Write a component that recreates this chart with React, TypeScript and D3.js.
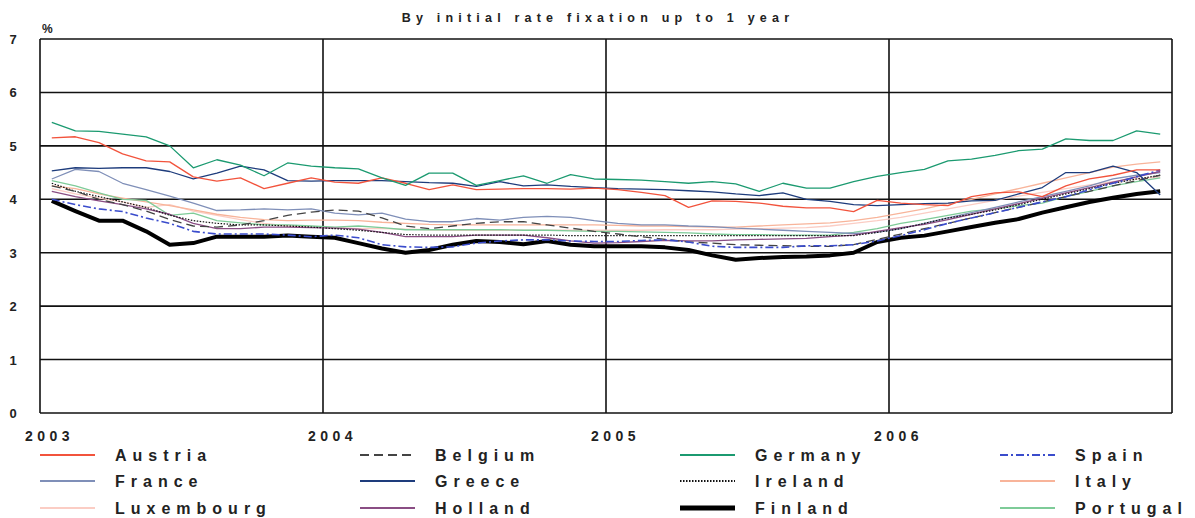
import * as d3 from 'd3';
import React from 'react';

// monthly data Jan 2003 - Dec 2006, %
const years = ['2003', '2004', '2005', '2006'];
const months = d3.range(48).map((i) => `${years[Math.floor(i / 12)]}-${(i % 12) + 1}`);
const yTicks = [0, 1, 2, 3, 4, 5, 6, 7];

const austria = [5.15, 5.17, 5.06, 4.85, 4.72, 4.7, 4.42, 4.34, 4.4, 4.2, 4.3, 4.4, 4.32, 4.3, 4.4, 4.3, 4.18, 4.27, 4.18, 4.19, 4.2, 4.2, 4.19, 4.21, 4.18, 4.13, 4.07, 3.85, 3.97, 3.96, 3.93, 3.87, 3.84, 3.84, 3.77, 3.98, 3.93, 3.9, 3.88, 4.05, 4.12, 4.14, 4.05, 4.25, 4.38, 4.45, 4.55, 4.55];
const belgium = [4.25, 4.15, 4.0, 3.9, 3.78, 3.62, 3.5, 3.48, 3.52, 3.6, 3.7, 3.76, 3.8, 3.78, 3.65, 3.5, 3.45, 3.5, 3.55, 3.58, 3.58, 3.52, 3.46, 3.4, 3.35, 3.3, 3.25, 3.2, 3.18, 3.15, 3.14, 3.13, 3.12, 3.12, 3.15, 3.25, 3.35, 3.45, 3.55, 3.65, 3.75, 3.85, 3.95, 4.05, 4.15, 4.25, 4.35, 4.45];
const germany = [5.44, 5.28, 5.27, 5.22, 5.17, 5.0, 4.59, 4.74, 4.64, 4.44, 4.68, 4.62, 4.59, 4.57, 4.4, 4.26, 4.49, 4.49, 4.26, 4.35, 4.44, 4.3, 4.46, 4.38, 4.37, 4.36, 4.33, 4.3, 4.33, 4.29, 4.15, 4.3, 4.21, 4.21, 4.33, 4.43, 4.5, 4.56, 4.72, 4.75, 4.82, 4.91, 4.94, 5.13, 5.1, 5.1, 5.28, 5.22];
const spain = [4.0, 3.9, 3.82, 3.77, 3.65, 3.55, 3.4, 3.35, 3.35, 3.35, 3.33, 3.3, 3.33, 3.28, 3.15, 3.11, 3.1, 3.11, 3.18, 3.22, 3.24, 3.24, 3.22, 3.21, 3.21, 3.23, 3.24, 3.2, 3.12, 3.1, 3.1, 3.1, 3.13, 3.13, 3.15, 3.22, 3.32, 3.43, 3.55, 3.65, 3.75, 3.85, 3.95, 4.05, 4.18, 4.3, 4.42, 4.55];
const france = [4.38, 4.56, 4.52, 4.3, 4.18, 4.06, 3.93, 3.79, 3.8, 3.82, 3.8, 3.82, 3.74, 3.71, 3.74, 3.63, 3.58, 3.58, 3.64, 3.61, 3.66, 3.68, 3.66, 3.6, 3.55, 3.52, 3.52, 3.5, 3.49, 3.46, 3.44, 3.42, 3.4, 3.38, 3.36, 3.38, 3.45, 3.55, 3.65, 3.75, 3.85, 3.95, 4.05, 4.15, 4.25, 4.38, 4.45, 4.5];
const greece = [4.53, 4.59, 4.58, 4.59, 4.59, 4.52, 4.38, 4.49, 4.62, 4.55, 4.35, 4.34, 4.35, 4.35, 4.35, 4.33, 4.31, 4.3, 4.24, 4.33, 4.25, 4.27, 4.24, 4.22, 4.2, 4.19, 4.18, 4.16, 4.14, 4.1, 4.07, 4.12, 4.0, 3.96, 3.9, 3.88, 3.9, 3.92, 3.93, 3.97, 3.98, 4.1, 4.22, 4.5, 4.5, 4.62, 4.5, 4.08];
const ireland = [4.3, 4.15, 4.05, 3.95, 3.85, 3.7, 3.6, 3.55, 3.52, 3.52, 3.5, 3.48, 3.45, 3.42, 3.38, 3.34, 3.33, 3.33, 3.33, 3.33, 3.33, 3.33, 3.32, 3.32, 3.32, 3.32, 3.32, 3.32, 3.32, 3.32, 3.32, 3.32, 3.32, 3.32, 3.32, 3.38, 3.45, 3.55, 3.65, 3.72, 3.8, 3.9, 4.0, 4.1, 4.2, 4.3, 4.38, 4.45];
const italy = [4.25, 4.2, 4.1, 4.02, 3.95, 3.88, 3.8, 3.72, 3.66, 3.62, 3.6, 3.61, 3.61, 3.6, 3.57, 3.55, 3.53, 3.52, 3.52, 3.52, 3.52, 3.52, 3.52, 3.52, 3.51, 3.5, 3.5, 3.49, 3.48, 3.48, 3.5, 3.52, 3.54, 3.56, 3.6, 3.66, 3.74, 3.82, 3.92, 4.0, 4.1, 4.2, 4.3, 4.4, 4.5, 4.6, 4.66, 4.7];
const luxembourg = [4.2, 4.1, 4.02, 3.95, 3.85, 3.9, 3.78, 3.7, 3.62, 3.55, 3.5, 3.48, 3.47, 3.45, 3.45, 3.44, 3.43, 3.42, 3.42, 3.42, 3.42, 3.42, 3.42, 3.42, 3.42, 3.42, 3.43, 3.43, 3.43, 3.44, 3.45, 3.46, 3.47, 3.5, 3.55, 3.6, 3.66, 3.74, 3.82, 3.9, 3.98, 4.06, 4.13, 4.2, 4.27, 4.33, 4.38, 4.42];
const holland = [4.15, 4.05, 3.97, 3.9, 3.82, 3.72, 3.55, 3.45, 3.45, 3.48, 3.48, 3.47, 3.46, 3.44, 3.38, 3.3, 3.3, 3.3, 3.33, 3.33, 3.33, 3.28, 3.22, 3.18, 3.19, 3.21, 3.23, 3.22, 3.22, 3.24, 3.25, 3.26, 3.27, 3.3, 3.33, 3.4, 3.47, 3.53, 3.62, 3.72, 3.82, 3.92, 4.02, 4.12, 4.22, 4.32, 4.42, 4.52];
const finland = [3.97, 3.78, 3.6, 3.6, 3.4, 3.15, 3.18, 3.3, 3.3, 3.3, 3.32, 3.3, 3.28, 3.18, 3.08, 3.0, 3.05, 3.15, 3.22, 3.2, 3.16, 3.22, 3.15, 3.12, 3.12, 3.12, 3.1, 3.05, 2.95, 2.87, 2.9, 2.92, 2.93, 2.95, 3.0, 3.2, 3.28, 3.32, 3.4, 3.48, 3.56, 3.63, 3.75, 3.85, 3.95, 4.03, 4.1, 4.15];
const portugal = [4.35, 4.25, 4.12, 4.0, 3.98, 3.7, 3.74, 3.6, 3.56, 3.52, 3.52, 3.5, 3.48, 3.5, 3.47, 3.43, 3.43, 3.43, 3.43, 3.43, 3.42, 3.42, 3.41, 3.4, 3.4, 3.39, 3.38, 3.37, 3.35, 3.34, 3.34, 3.33, 3.33, 3.33, 3.38, 3.45, 3.55, 3.62, 3.7, 3.78, 3.82, 3.88, 3.93, 4.05, 4.15, 4.25, 4.33, 4.4];

type Series = { name: string; values: number[]; color: string; width: number; dash?: string };

// legend order, row by row
const series: Series[] = [
  { name: 'Austria', values: austria, color: '#f2533c', width: 1.3 },
  { name: 'Belgium', values: belgium, color: '#444', width: 1.3, dash: '9,5' },
  { name: 'Germany', values: germany, color: '#1b9a70', width: 1.3 },
  { name: 'Spain', values: spain, color: '#3a4ccc', width: 1.6, dash: '8,3,2,3' },
  { name: 'France', values: france, color: '#7f8fb8', width: 1.3 },
  { name: 'Greece', values: greece, color: '#1e3c7c', width: 1.3 },
  { name: 'Ireland', values: ireland, color: '#111', width: 1.2, dash: '1.5,1.5' },
  { name: 'Italy', values: italy, color: '#f8b49a', width: 1.3 },
  { name: 'Luxembourg', values: luxembourg, color: '#fbcdc4', width: 1.3 },
  { name: 'Holland', values: holland, color: '#8a4d84', width: 1.3 },
  { name: 'Finland', values: finland, color: '#000', width: 4 },
  { name: 'Portugal', values: portugal, color: '#7ecb98', width: 1.3 },
];

const drawOrder = ['Finland', 'Luxembourg', 'Italy', 'Portugal', 'France', 'Holland', 'Ireland', 'Belgium', 'Spain', 'Greece', 'Austria', 'Germany'];

const W = 1195;
const H = 518;
const left = 40;
const right = 1172;
const top = 39;
const bottom = 413;
const font = 'Liberation Sans, Arial, sans-serif';

export default function App() {
  const x = d3.scaleBand<string>().domain(months).range([left, right]);
  const y = d3.scaleLinear().domain([0, 7]).range([bottom, top]);
  const cx = (i: number) => (x(months[i]) ?? 0) + x.bandwidth() / 2;
  const line = d3.line<number>().x((_d, i) => cx(i)).y((d) => y(d));
  const yearX = years.map((yr) => x(`${yr}-1`) ?? 0);

  const legendCols = [40, 360, 680, 1000];
  const legendRows = [455, 481, 508];

  return (
    <svg width={W} height={H} style={{ position: 'absolute', left: 0, top: 0, background: '#fff' }}>
      <text x={598} y={22} textAnchor="middle" fontFamily={font} fontSize={12.5} fontWeight="bold" letterSpacing={5.2} fill="#222">
        By initial rate fixation up to 1 year
      </text>
      <text x={42} y={33} fontFamily={font} fontSize={12} fontWeight="bold" fill="#222">%</text>

      {yTicks.map((t) => (
        <g key={t}>
          <line x1={left} x2={right} y1={y(t)} y2={y(t)} stroke="#111" strokeWidth={1.6} />
          <text x={13} y={y(t) + 5} textAnchor="middle" fontFamily={font} fontSize={13} fontWeight="bold" fill="#222">{t}</text>
        </g>
      ))}
      {yearX.map((xx, i) => (
        <g key={years[i]}>
          <line x1={xx} x2={xx} y1={top} y2={bottom} stroke="#111" strokeWidth={1.6} />
          <text x={xx - 15} y={441} fontFamily={font} fontSize={14} fontWeight="bold" letterSpacing={4.5} fill="#222">{years[i]}</text>
        </g>
      ))}
      <line x1={right} x2={right} y1={top} y2={bottom} stroke="#111" strokeWidth={1.6} />

      {drawOrder.map((n) => {
        const s = series.find((d) => d.name === n)!;
        return (
          <path key={n} d={line(s.values) ?? ''} fill="none" stroke={s.color} strokeWidth={s.width}
            strokeDasharray={s.dash} strokeLinejoin="round" />
        );
      })}

      {series.map((s, i) => {
        const lx = legendCols[i % 4];
        const ly = legendRows[Math.floor(i / 4)];
        return (
          <g key={s.name}>
            <line x1={lx} x2={lx + 55} y1={ly} y2={ly} stroke={s.color} strokeWidth={s.name === 'Finland' ? 5 : 1.8}
              strokeDasharray={s.dash} />
            <text x={lx + 75} y={ly + 6} fontFamily={font} fontSize={16} fontWeight="bold" letterSpacing={6} fill="#222">{s.name}</text>
          </g>
        );
      })}
    </svg>
  );
}
